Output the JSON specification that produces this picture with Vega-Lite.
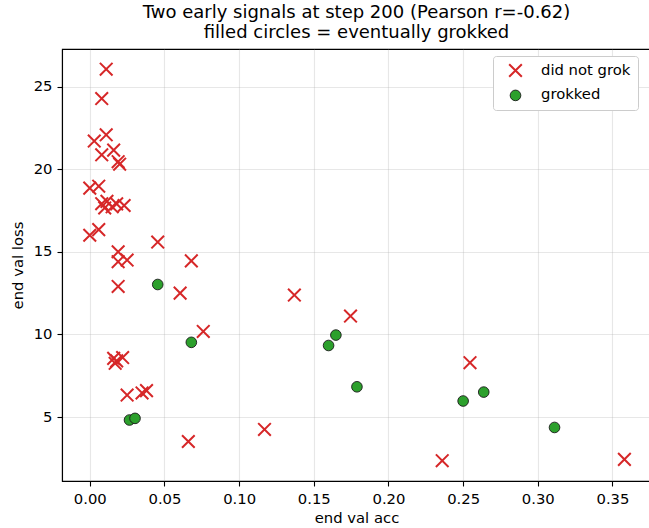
{
  "$schema": "https://vega.github.io/schema/vega-lite/v6.json",
  "width": 589,
  "height": 432,
  "autosize": {"type": "none"},
  "padding": {"left": 62, "top": 49, "right": 0, "bottom": 47},
  "background": "white",
  "title": {
    "text": ["Two early signals at step 200 (Pearson r=-0.62)", "filled circles = eventually grokked"],
    "anchor": "middle",
    "frame": "group",
    "font": "DejaVu Sans",
    "fontSize": 18,
    "fontWeight": "normal",
    "lineHeight": 20.5,
    "offset": 7,
    "color": "black"
  },
  "config": {
    "view": {"stroke": "black", "strokeWidth": 1.1},
    "axis": {
      "domainColor": "black",
      "domainWidth": 1.1,
      "tickColor": "black",
      "tickWidth": 1.1,
      "tickSize": 5,
      "labelFont": "DejaVu Sans",
      "labelFontSize": 14.8,
      "labelColor": "black",
      "labelPadding": 5,
      "titleFont": "DejaVu Sans",
      "titleFontSize": 14.8,
      "titleFontWeight": "normal",
      "titleColor": "black",
      "gridColor": "#b0b0b0",
      "gridOpacity": 0.3,
      "gridWidth": 1.1
    },
    "legend": {
      "padding": 7,
      "strokeColor": "#cccccc",
      "fillColor": "white",
      "cornerRadius": 3,
      "labelFont": "DejaVu Sans",
      "labelFontSize": 14.8,
      "labelColor": "black",
      "rowPadding": 6,
      "labelOffset": 18,
      "symbolOffset": 8
    }
  },
  "data": {
    "values": [
      {"acc": 0.011, "loss": 26.05, "outcome": "did not grok"},
      {"acc": 0.008, "loss": 24.27, "outcome": "did not grok"},
      {"acc": 0.011, "loss": 22.08, "outcome": "did not grok"},
      {"acc": 0.003, "loss": 21.7, "outcome": "did not grok"},
      {"acc": 0.016, "loss": 21.15, "outcome": "did not grok"},
      {"acc": 0.008, "loss": 20.87, "outcome": "did not grok"},
      {"acc": 0.019, "loss": 20.45, "outcome": "did not grok"},
      {"acc": 0.02, "loss": 20.3, "outcome": "did not grok"},
      {"acc": 0.0, "loss": 18.85, "outcome": "did not grok"},
      {"acc": 0.006, "loss": 18.97, "outcome": "did not grok"},
      {"acc": 0.008, "loss": 17.91, "outcome": "did not grok"},
      {"acc": 0.0115, "loss": 18.05, "outcome": "did not grok"},
      {"acc": 0.015, "loss": 17.72, "outcome": "did not grok"},
      {"acc": 0.018, "loss": 17.9, "outcome": "did not grok"},
      {"acc": 0.023, "loss": 17.8, "outcome": "did not grok"},
      {"acc": 0.01, "loss": 17.65, "outcome": "did not grok"},
      {"acc": 0.0, "loss": 16.0, "outcome": "did not grok"},
      {"acc": 0.006, "loss": 16.34, "outcome": "did not grok"},
      {"acc": 0.019, "loss": 15.0, "outcome": "did not grok"},
      {"acc": 0.0455, "loss": 15.59, "outcome": "did not grok"},
      {"acc": 0.019, "loss": 14.4, "outcome": "did not grok"},
      {"acc": 0.025, "loss": 14.5, "outcome": "did not grok"},
      {"acc": 0.068, "loss": 14.45, "outcome": "did not grok"},
      {"acc": 0.019, "loss": 12.9, "outcome": "did not grok"},
      {"acc": 0.0605, "loss": 12.5, "outcome": "did not grok"},
      {"acc": 0.137, "loss": 12.38, "outcome": "did not grok"},
      {"acc": 0.1746, "loss": 11.11, "outcome": "did not grok"},
      {"acc": 0.076, "loss": 10.18, "outcome": "did not grok"},
      {"acc": 0.016, "loss": 8.55, "outcome": "did not grok"},
      {"acc": 0.017, "loss": 8.25, "outcome": "did not grok"},
      {"acc": 0.018, "loss": 8.4, "outcome": "did not grok"},
      {"acc": 0.022, "loss": 8.6, "outcome": "did not grok"},
      {"acc": 0.025, "loss": 6.33, "outcome": "did not grok"},
      {"acc": 0.035, "loss": 6.46, "outcome": "did not grok"},
      {"acc": 0.038, "loss": 6.6, "outcome": "did not grok"},
      {"acc": 0.066, "loss": 3.52, "outcome": "did not grok"},
      {"acc": 0.117, "loss": 4.25, "outcome": "did not grok"},
      {"acc": 0.236, "loss": 2.36, "outcome": "did not grok"},
      {"acc": 0.2546, "loss": 8.29, "outcome": "did not grok"},
      {"acc": 0.358, "loss": 2.44, "outcome": "did not grok"},
      {"acc": 0.0455, "loss": 13.02, "outcome": "grokked"},
      {"acc": 0.068, "loss": 9.52, "outcome": "grokked"},
      {"acc": 0.1648, "loss": 9.96, "outcome": "grokked"},
      {"acc": 0.1599, "loss": 9.33, "outcome": "grokked"},
      {"acc": 0.1789, "loss": 6.83, "outcome": "grokked"},
      {"acc": 0.25, "loss": 5.97, "outcome": "grokked"},
      {"acc": 0.2638, "loss": 6.51, "outcome": "grokked"},
      {"acc": 0.3112, "loss": 4.37, "outcome": "grokked"},
      {"acc": 0.0266, "loss": 4.82, "outcome": "grokked"},
      {"acc": 0.0303, "loss": 4.92, "outcome": "grokked"}
    ]
  },
  "mark": {"type": "point", "opacity": 1},
  "encoding": {
    "x": {
      "field": "acc",
      "type": "quantitative",
      "scale": {"domain": [-0.0186, 0.3758], "nice": false, "zero": false},
      "axis": {"title": "end val acc", "values": [0, 0.05, 0.1, 0.15, 0.2, 0.25, 0.3, 0.35], "format": ".2f", "titlePadding": 5}
    },
    "y": {
      "field": "loss",
      "type": "quantitative",
      "scale": {"domain": [1.13, 27.27], "nice": false, "zero": false},
      "axis": {"title": "end val loss", "values": [5, 10, 15, 20, 25], "format": "d", "titlePadding": 8}
    },
    "shape": {
      "field": "outcome",
      "type": "nominal",
      "scale": {"domain": ["did not grok", "grokked"], "range": ["M-1,-1L1,1M-1,1L1,-1", "circle"]},
      "legend": {"title": null, "orient": "none", "legendX": 431, "legendY": 7}
    },
    "fill": {
      "field": "outcome",
      "type": "nominal",
      "scale": {"domain": ["did not grok", "grokked"], "range": ["transparent", "#2ca02c"]}
    },
    "stroke": {
      "field": "outcome",
      "type": "nominal",
      "scale": {"domain": ["did not grok", "grokked"], "range": ["#d62728", "#1a1a1a"]}
    },
    "strokeWidth": {
      "field": "outcome",
      "type": "nominal",
      "scale": {"domain": ["did not grok", "grokked"], "range": [2, 0.9]}
    },
    "size": {
      "field": "outcome",
      "type": "nominal",
      "scale": {"domain": ["did not grok", "grokked"], "range": [160, 113]}
    }
  }
}
